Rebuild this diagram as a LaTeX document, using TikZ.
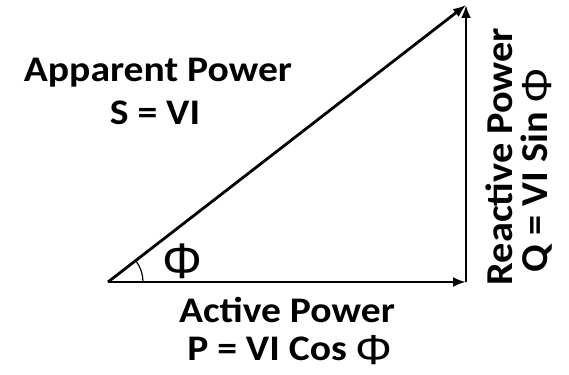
\documentclass[tikz,border=0pt]{standalone}
\usepackage{fontspec}
\setmainfont{Carlito}
\newfontfamily\phifont{Liberation Sans}
\usetikzlibrary{arrows.meta}
\newcommand{\hx}[1]{\scalebox{1.1}[1]{#1}}
\newcommand{\vx}[1]{\scalebox{1.06}[1]{#1}}
\newcommand{\fphi}{\raisebox{-4pt}{\phifont\mdseries\fontsize{42}{44}\selectfont Φ}}
\begin{document}
\begin{tikzpicture}[x=1pt,y=1pt,
  vec/.style={line width=2.8pt,-{Latex[length=13pt,width=10pt]}},
  lbl/.style={font=\fontsize{36}{40}\selectfont\bfseries,inner sep=0pt,anchor=base},
  vlbl/.style={font=\fontsize{38}{40}\selectfont\bfseries,inner sep=0pt,anchor=base,rotate=90},
  phil/.style={font=\fontsize{50}{54}\selectfont\phifont,inner sep=0pt}]
\useasboundingbox (0,0) rectangle (569,374);
\coordinate (O) at (108,92);
\coordinate (B) at (466,92);
\coordinate (T) at (466,369);
\draw[vec] (O) -- (B);
\draw[vec] (B) -- (T);
\draw[vec] (O) -- (T);
\draw[line width=1.2pt] ([shift={(0:35)}]O) arc[start angle=0,end angle=37.7,radius=35];
\node[phil] (ang) at (182,113) {Φ};
\node[lbl] (app) at (158,292) {\hx{Apparent Power}};
\node[lbl] (s) at (155,249) {\hx{S = VI}};
\node[lbl] (act) at (287,51) {\hx{Active Power}};
\node[lbl] (p) at (290,13) {\hx{P = VI Cos \fphi}};
\node[vlbl] (rea) at (512,217.5) {\vx{Reactive Power}};
\node[vlbl] (q) at (547,204) {\vx{Q = VI Sin \fphi}};
\end{tikzpicture}
\end{document}
